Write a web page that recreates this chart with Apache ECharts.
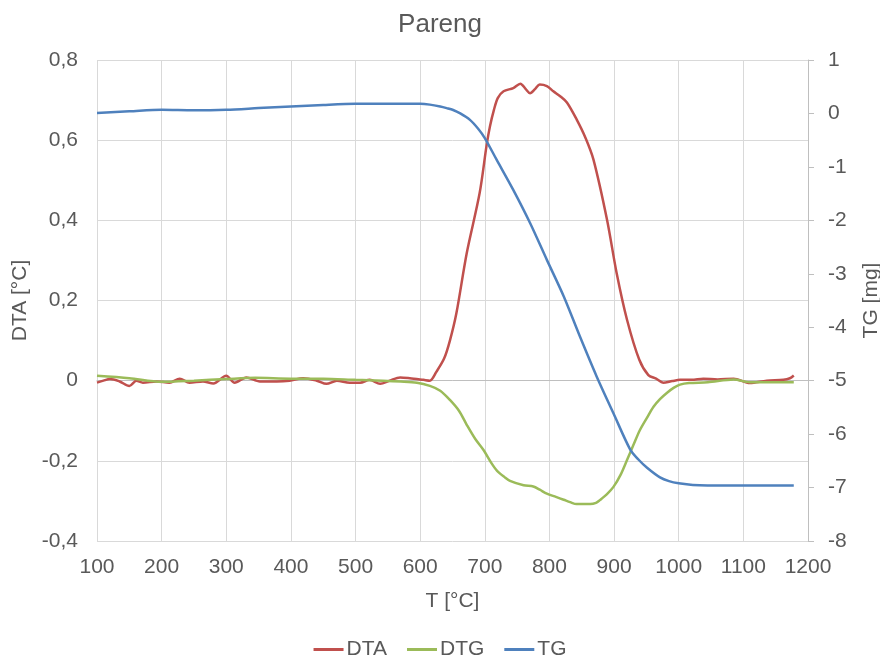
<!DOCTYPE html>
<html>
<head>
<meta charset="utf-8">
<script src="https://cdn.jsdelivr.net/npm/echarts@6/dist/echarts.min.js"></script>
<style>
html,body{margin:0;padding:0;background:#fff;}
#chart{width:880px;height:662px;}
</style>
</head>
<body>
<div id="chart"></div>
<script>
// Temperature [°C] and values
var tDTA = [100,110,120,135,150,161,171,192,212,228,243,264,280,300,313,331,352,378,398,419,440,455,471,491,507,522,538,553,569,584,605,615,625,637,646,656,672,692,703,708,714,720,729,744,755,763,770,778,785,796,806,817,827,842,856,868,889,904,920,939,953,965,976,990,1002,1020,1038,1060,1085,1110,1136,1162,1172,1178];
var vDTA = [-0.005,0.0,0.004,-0.002,-0.013,0.0,-0.005,-0.002,-0.005,0.005,-0.005,-0.002,-0.007,0.012,-0.005,0.008,-0.002,-0.002,0.0,0.006,0.0,-0.008,0.0,-0.005,-0.005,0.002,-0.008,0.0,0.008,0.006,0.002,0.0,0.022,0.055,0.1,0.168,0.318,0.468,0.59,0.635,0.675,0.705,0.722,0.73,0.741,0.728,0.717,0.728,0.739,0.735,0.722,0.709,0.694,0.652,0.605,0.552,0.402,0.268,0.152,0.052,0.014,0.005,-0.005,-0.001,0.002,0.002,0.005,0.003,0.005,-0.006,0.0,0.002,0.006,0.013];

var tDTG = [100,150,200,250,300,345,400,450,500,542,570,595,615,631,646,660,672,685,698,710,719,730,739,760,775,785,796,810,822,832,842,863,872,878,889,899,910,920,930,940,951,961,971,982,992,1002,1016,1045,1085,1110,1178];
var vDTG = [0.012,0.006,-0.003,0.0,0.004,0.007,0.005,0.005,0.002,0.0,-0.002,-0.005,-0.013,-0.025,-0.048,-0.075,-0.11,-0.145,-0.173,-0.205,-0.225,-0.24,-0.25,-0.261,-0.264,-0.272,-0.282,-0.29,-0.297,-0.303,-0.308,-0.308,-0.305,-0.298,-0.283,-0.265,-0.235,-0.198,-0.16,-0.123,-0.092,-0.065,-0.046,-0.03,-0.018,-0.01,-0.006,-0.004,0.003,-0.004,-0.004];

var tTG = [100,150,200,250,300,350,400,450,500,550,600,615,631,641,651,662,677,690,700,718,744,770,796,822,847,873,899,925,938,951,971,985,1000,1022,1075,1178];
var vTG = [0.01,0.04,0.07,0.06,0.07,0.1,0.13,0.16,0.18,0.18,0.18,0.165,0.13,0.1,0.065,0.0,-0.12,-0.29,-0.46,-0.86,-1.43,-2.05,-2.74,-3.42,-4.17,-4.92,-5.61,-6.29,-6.48,-6.63,-6.81,-6.88,-6.92,-6.95,-6.96,-6.96];

var seriesNames = ['DTA','DTG','TG'];
var xTicks = {min:100, max:1200, interval:100};
var leftTicks = {min:-0.4, max:0.8, interval:0.2};
var rightTicks = {min:-8, max:1, interval:1};

function pairs(t, v){ return t.map(function(x,i){ return [x, v[i]]; }); }

var txt = '#595959';
var font = 'Liberation Sans, Arial, sans-serif';
var fs = 21;
var chart = echarts.init(document.getElementById('chart'));
chart.setOption({
  animation:false,
  textStyle:{fontFamily:font},
  title:{text:'Pareng', left:'center', top:7, textStyle:{fontSize:26, fontWeight:'normal', color:txt, fontFamily:font}},
  legend:{
    data:seriesNames, left:'center', top:634, icon:'rect', itemWidth:30, itemHeight:3, itemGap:20,
    textStyle:{fontSize:fs, color:txt, fontFamily:font, padding:[0,0,0,-2]}
  },
  grid:{left:97, right:72, top:60, bottom:121, containLabel:false, outerBoundsMode:'none'},
  xAxis:{
    type:'value', min:xTicks.min, max:xTicks.max, interval:xTicks.interval,
    name:'T [°C]', nameLocation:'middle', nameGap:50,
    nameTextStyle:{fontSize:fs, color:txt, fontFamily:font},
    axisLine:{show:true, lineStyle:{color:'#BFBFBF', width:1}},
    axisTick:{show:false},
    axisLabel:{fontSize:fs, color:txt, margin:16, fontFamily:font, formatter:function(v){ return String(v); }},
    splitLine:{show:true, lineStyle:{color:'#D9D9D9', width:1}}
  },
  yAxis:[
    {
      type:'value', min:leftTicks.min, max:leftTicks.max, interval:leftTicks.interval,
      name:'DTA [°C]', nameLocation:'middle', nameGap:64, nameRotate:90,
      nameTextStyle:{fontSize:fs, color:txt, fontFamily:font},
      axisLine:{show:false}, axisTick:{show:false},
      axisLabel:{fontSize:fs, color:txt, margin:19, fontFamily:font,
        formatter:function(v){ var r=Math.round(v*10)/10; return String(r).replace('.',','); }},
      splitLine:{show:true, lineStyle:{color:'#D9D9D9', width:1}}
    },
    {
      type:'value', position:'right', min:rightTicks.min, max:rightTicks.max, interval:rightTicks.interval,
      name:'TG [mg]', nameLocation:'middle', nameGap:53, nameRotate:90,
      nameTextStyle:{fontSize:fs, color:txt, fontFamily:font},
      axisLine:{show:true, lineStyle:{color:'#BFBFBF', width:1}},
      axisTick:{show:true, inside:false, length:6, lineStyle:{color:'#BFBFBF'}},
      axisLabel:{fontSize:fs, color:txt, margin:20, fontFamily:font},
      splitLine:{show:false}
    }
  ],
  series:[
    {name:'DTA', type:'line', yAxisIndex:0, data:pairs(tDTA,vDTA), smooth:0.3, showSymbol:false,
     lineStyle:{color:'#C0504D', width:2.5}, itemStyle:{color:'#C0504D'}},
    {name:'DTG', type:'line', yAxisIndex:0, data:pairs(tDTG,vDTG), smooth:0.3, showSymbol:false,
     lineStyle:{color:'#9BBB59', width:2.5}, itemStyle:{color:'#9BBB59'}},
    {name:'TG', type:'line', yAxisIndex:1, data:pairs(tTG,vTG), smooth:0.3, showSymbol:false,
     lineStyle:{color:'#4F81BD', width:2.5}, itemStyle:{color:'#4F81BD'}}
  ]
});
</script>
</body>
</html>
